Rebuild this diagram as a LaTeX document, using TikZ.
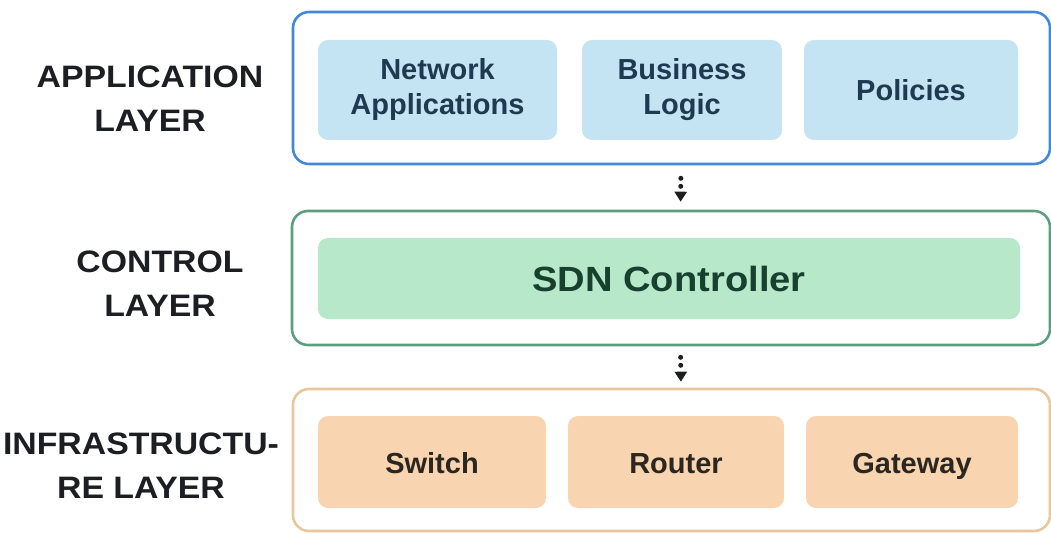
\documentclass[tikz,border=0pt]{standalone}
\usepackage{fontspec}
\setmainfont{Liberation Sans}
\newfontfamily\widefont[FakeStretch=1.09]{Liberation Sans}
\usepackage{xcolor}
\usetikzlibrary{arrows.meta}

\definecolor{appline}{HTML}{4388D6}
\definecolor{appfill}{HTML}{C4E4F4}
\definecolor{apptext}{HTML}{1E3A50}
\definecolor{ctlline}{HTML}{5E9E80}
\definecolor{ctlfill}{HTML}{B7E8C9}
\definecolor{ctltext}{HTML}{17402F}
\definecolor{infline}{HTML}{E9C69E}
\definecolor{inffill}{HTML}{F9D4B1}
\definecolor{inftext}{HTML}{2B2620}
\definecolor{ink}{HTML}{1C1E22}

\begin{document}
\begin{tikzpicture}[
  x=1pt,y=-1pt,
  layer/.style={draw,line width=2.6pt,rounded corners=16pt,inner sep=0pt},
  part/.style={rounded corners=10pt,inner sep=0pt,align=center,
    font=\fontsize{29}{35}\selectfont\bfseries},
  solo/.style={text height=25pt,text depth=3pt},
  side/.style={align=center,text=ink,font=\widefont\fontsize{31}{44}\selectfont\bfseries},
  flow/.style={line width=5pt,dash pattern=on 0pt off 8pt,line cap=round,
    -{Triangle[width=12pt,length=10pt]},ink},
]
\useasboundingbox (0,0) rectangle (1051,534);

% layers
\node[layer,appline,minimum width=757pt,minimum height=152pt] (app) at (671.5,88) {};
\node[layer,ctlline,minimum width=758pt,minimum height=134pt] (ctl) at (671,278) {};
\node[layer,infline,minimum width=757pt,minimum height=142pt] (inf) at (671.5,460) {};

% application layer
\node[part,fill=appfill,text=apptext,minimum width=239pt,minimum height=100pt] (netapp) at (437.5,90) {Network\\Applications};
\node[part,fill=appfill,text=apptext,minimum width=200pt,minimum height=100pt] (logic) at (682,90) {Business\\Logic};
\node[part,solo,fill=appfill,text=apptext,minimum width=214pt,minimum height=100pt] (policy) at (911,90) {Policies};

% control layer
\node[part,fill=ctlfill,text=ctltext,minimum width=702pt,minimum height=81pt,
  font=\widefont\fontsize{35}{40}\selectfont\bfseries] (sdn) at (669,278.5) {SDN Controller};

% infrastructure layer
\node[part,solo,fill=inffill,text=inftext,minimum width=228pt,minimum height=92pt] (switch) at (432,462) {Switch};
\node[part,solo,fill=inffill,text=inftext,minimum width=216pt,minimum height=92pt] (router) at (676,462) {Router};
\node[part,solo,fill=inffill,text=inftext,minimum width=212pt,minimum height=92pt] (gateway) at (912,462) {Gateway};

% labels
\node[side] (applbl) at (150,99) {APPLICATION\\LAYER};
\node[side] (ctllbl) at (160,284) {CONTROL\\LAYER};
\node[side] (inflbl) at (141,466) {INFRASTRUCTU-\\RE LAYER};

% arrows
\draw[flow,shorten <=13pt,shorten >=8pt] ([xshift=9.5pt]app.south) -- ([xshift=9.5pt]ctl.north);
\draw[flow,shorten <=11pt,shorten >=6pt] ([xshift=9.5pt]ctl.south) -- ([xshift=9.5pt]inf.north);
\end{tikzpicture}
\end{document}
